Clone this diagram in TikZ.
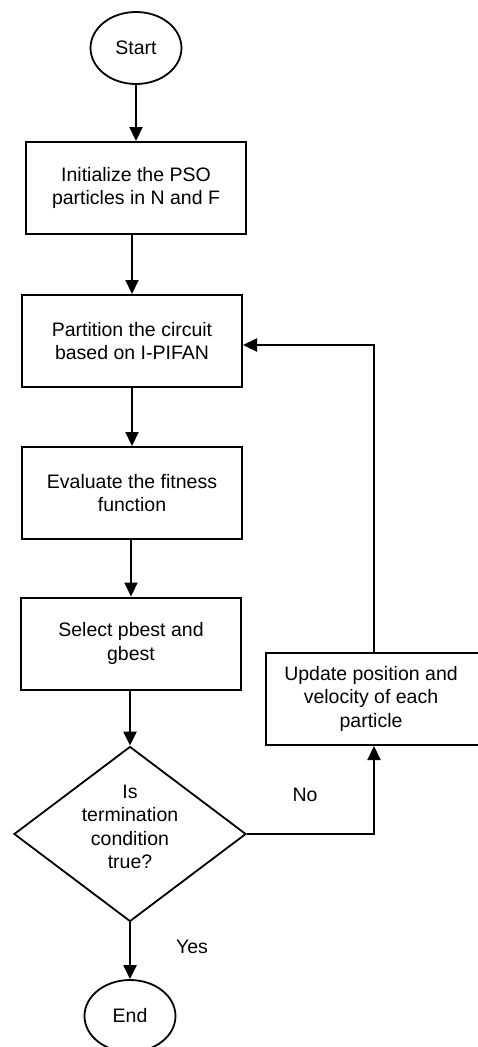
\documentclass[tikz,border=0pt]{standalone}
\usepackage{fontspec}
\setmainfont{Liberation Sans}
\usetikzlibrary{shapes.geometric,arrows.meta}
\begin{document}
\begin{tikzpicture}[x=1pt,y=-1pt,
  every node/.style={font=\fontsize{19.5}{23.5}\selectfont, align=center},
  proc/.style={draw, line width=2pt, rectangle, minimum width=220pt, minimum height=92pt, inner sep=0pt},
  term/.style={draw, line width=1.8pt, ellipse, minimum width=91pt, minimum height=72pt, inner sep=0pt},
  dec/.style={draw, line width=1.8pt, diamond, minimum width=232pt, minimum height=175pt, inner sep=0pt},
  conn/.style={line width=2.2pt, -{Triangle[length=14pt,width=13pt]}},
  lbl/.style={inner sep=0pt}]
\useasboundingbox (0,0) rectangle (477,1047);
\node[term] (start) at (136,48) {Start};
\node[proc] (init) at (136,188) {Initialize the PSO\\particles in N and F};
\node[proc] (part) at (132,341) {Partition the circuit\\based on I-PIFAN};
\node[proc] (eval) at (132,493) {Evaluate the fitness\\function};
\node[proc] (sel) at (131,643.5) {Select pbest and\\gbest};
\node[dec] (cond) at (130,834) {\smash{\makebox[0pt]{\begin{tabular}{@{}c@{}}Is\\termination\\condition\\true?\end{tabular}}}};
\node[term] (end) at (130,1016) {End};
\node[proc, minimum width=216pt] (upd) at (374,699) {\makebox[0pt]{\hspace*{-6pt}\begin{tabular}{@{}c@{}}Update position and\\velocity of each\\particle\end{tabular}}};
\node[lbl] (no) at (305,795) {No};
\node[lbl] (yes) at (192,947) {Yes};
\draw[conn] (start) -- (init);
\draw[conn] (init.south -| part.north) -- (part.north);
\draw[conn] (part.south -| eval.north) -- (eval.north);
\draw[conn] (eval.south -| sel.north) -- (sel.north);
\draw[conn] (sel.south -| cond.north) -- (cond.north);
\draw[conn] (cond.south) -- (end.north);
\draw[conn] (cond.east) -| (upd.south);
\draw[conn] (upd.north) |- ([yshift=-4pt]part.east);
\end{tikzpicture}
\end{document}
